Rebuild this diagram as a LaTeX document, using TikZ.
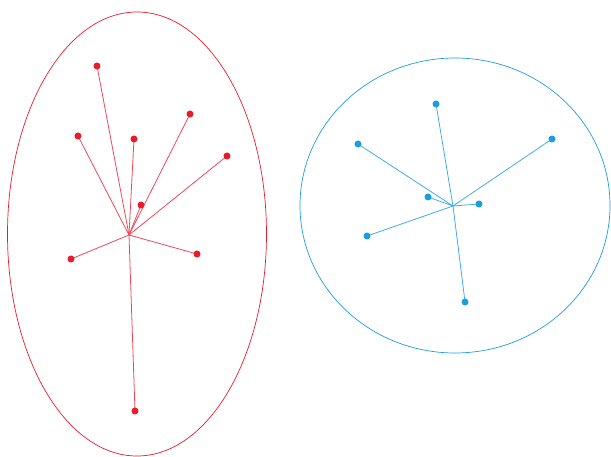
\documentclass[tikz,border=0pt]{standalone}
\usepackage{xcolor}
\usepackage{tikz}
\usetikzlibrary{positioning, backgrounds}
\definecolor{clusterred}{RGB}{232, 28, 44}
\definecolor{clusterblue}{RGB}{28, 158, 222}

\begin{document}
\begin{tikzpicture}[x=1pt, y=-1pt,
    reddot/.style={circle, fill=clusterred, inner sep=0pt, minimum size=7pt},
    bluedot/.style={circle, fill=clusterblue, inner sep=0pt, minimum size=7pt},
    redlink/.style={clusterred!80, line width=0.8pt},
    bluelink/.style={clusterblue!85, line width=0.8pt}]
  \useasboundingbox (0, 0) rectangle (611, 457);

  % ── Cluster outlines ──────────────────────────────────────────────────────
  \draw[clusterred, line width=0.7pt] (137, 234) ellipse (129.5 and 222);
  \draw[clusterblue, line width=0.7pt] (455, 205.5) ellipse (155 and 147.5);

  % ── Centres ──────────────────────────────────────────────────────────────
  \coordinate (rc) at (129, 235);
  \coordinate (bc) at (453, 206);

  % ── Red members (x, y in px) ─────────────────────────────────────────────
  \foreach \name/\xpos/\ypos in {r1/97/66, r2/78/136, r3/134/139, r4/190/114,
      r5/227/156, r6/141/205, r7/71/259, r8/197/254, r9/135/411} {
    \node[reddot] (\name) at (\xpos, \ypos) {};
  }

  % ── Blue members ─────────────────────────────────────────────────────────
  \foreach \name/\xpos/\ypos in {b1/436/104, b2/358/144, b3/552/139, b4/428/197,
      b5/479/204, b6/367/236, b7/465/302} {
    \node[bluedot] (\name) at (\xpos, \ypos) {};
  }

  % ── Links to centres (behind the dots) ───────────────────────────────────
  \begin{scope}[on background layer]
    \foreach \name in {r1, r2, r3, r4, r5, r6, r7, r8, r9}
      \draw[redlink] (rc) -- (\name.center);
    \foreach \name in {b1, b2, b3, b4, b5, b6, b7}
      \draw[bluelink] (bc) -- (\name.center);
  \end{scope}
\end{tikzpicture}
\end{document}
